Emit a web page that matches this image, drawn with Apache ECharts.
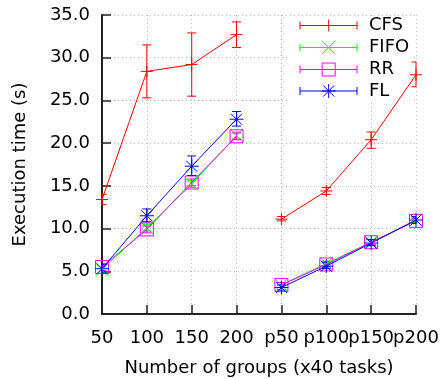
<!DOCTYPE html>
<html><head><meta charset="utf-8">
<script src="https://cdn.jsdelivr.net/npm/echarts@6/dist/echarts.min.js"></script>
<style>html,body{margin:0;padding:0;background:#fff}#c{width:441px;height:379px}</style>
</head><body><div id="c"></div>
<script>
const categories = ['50','100','150','200','p50','p100','p150','p200'];
const yTicks = [0,5,10,15,20,25,30,35];
const names = ['CFS','FIFO','RR','FL'];
const colors = ['#ff0000','#00ff00','#ff00ff','#0000ff'];
const markers = ['plus','cross','square','star'];
const cfs     = [13.4, 28.4, 29.2, 32.7, 11.1, 14.4, 20.4, 28.0];
const cfsLow  = [12.8, 25.3, 25.5, 31.2, 10.9, 14.0, 19.4, 26.6];
const cfsHigh = [14.0, 31.5, 32.9, 34.2, 11.4, 14.8, 21.3, 29.5];
const fifo     = [5.2, 10.1, 15.2, 20.9, 3.4, 5.9, 8.4, 11.0];
const fifoLow  = [4.9, 9.7, 14.8, 20.5, 3.1, 5.6, 8.1, 10.7];
const fifoHigh = [5.5, 10.5, 15.6, 21.3, 3.7, 6.2, 8.7, 11.3];
const rr     = [5.5, 9.9, 15.4, 20.8, 3.4, 5.8, 8.4, 10.9];
const rrLow  = [5.1, 9.5, 15.0, 20.4, 3.1, 5.5, 8.1, 10.6];
const rrHigh = [5.9, 10.3, 15.8, 21.2, 3.7, 6.1, 8.7, 11.2];
const fl     = [5.3, 11.5, 17.3, 22.8, 3.1, 5.6, 8.3, 11.0];
const flLow  = [4.8, 10.8, 16.2, 22.0, 2.8, 5.3, 8.0, 10.6];
const flHigh = [5.8, 12.3, 18.5, 23.7, 3.4, 6.0, 8.7, 11.4];

const vals = [cfs, fifo, rr, fl];
const lows = [cfsLow, fifoLow, rrLow, flLow];
const highs = [cfsHigh, fifoHigh, rrHigh, flHigh];

function L(x1,y1,x2,y2,c){return {type:'line',shape:{x1,y1,x2,y2},style:{stroke:c,lineWidth:1}};}
function marker(kind,cx,cy,c){
  const out=[];
  if(kind==='plus'){const h=6;out.push(L(cx-h,cy,cx+h,cy,c),L(cx,cy-h,cx,cy+h,c));}
  else if(kind==='cross'){const h=6.5;out.push(L(cx-h,cy-h,cx+h,cy+h,c),L(cx-h,cy+h,cx+h,cy-h,c));}
  else if(kind==='square'){const h=6.5;out.push({type:'rect',shape:{x:cx-h,y:cy-h,width:2*h,height:2*h},style:{fill:'none',stroke:c,lineWidth:1}});}
  else {const h=7;const d=5.5;out.push(L(cx-h,cy,cx+h,cy,c),L(cx,cy-h,cx,cy+h,c),L(cx-d,cy-d,cx+d,cy+d,c),L(cx-d,cy+d,cx+d,cy-d,c));}
  return out;
}
function seg(arr,part){return arr.map((v,i)=>((part===0&&i<4)||(part===1&&i>=4))?v:null);}

const series=[];
// legend box (drawn relative to the plot area, below the data)
series.push({type:'custom',name:'legend',z:1,silent:true,animation:false,clip:false,
  data:[[0,0]],encode:{x:0,y:1},
  renderItem:function(params,api){
    const cs=params.coordSys;
    const right=cs.x+cs.width;
    const ch=[{type:'rect',shape:{x:right-128,y:cs.y+2,width:123,height:85},style:{fill:'#fff'}}];
    const rowY=[10.5,32.5,54.5,76];
    names.forEach((n,k)=>{
      const c=colors[k], y=cs.y+rowY[k];
      const x0=right-116, x1=right-59, xm=right-87.3;
      ch.push(L(x0,y,x1,y,c),L(x0,y-4,x0,y+4,c),L(x1,y-4,x1,y+4,c));
      marker(markers[k],xm,y,c).forEach(m=>ch.push(m));
      ch.push({type:'text',style:{text:n,x:right-47,y:y,verticalAlign:'middle',align:'left',
        fontSize:18,fontFamily:'DejaVu Sans',fill:'#000'}});
    });
    return {type:'group',children:ch};
  }});
names.forEach((n,k)=>{
  const c=colors[k];
  [0,1].forEach(p=>series.push({type:'line',name:n,data:seg(vals[k],p),symbol:'none',connectNulls:false,
    lineStyle:{color:c,width:1},itemStyle:{color:c},silent:true,animation:false}));
  series.push({type:'custom',name:n+'err',animation:false,silent:true,clip:false,
    data:vals[k].map((v,i)=>[i,v,lows[k][i],highs[k][i]]),
    encode:{x:0,y:[1,2,3]},
    renderItem:function(params,api){
      const cs=params.coordSys;
      const p=api.coord([api.value(0),api.value(1)]);
      const lo=api.coord([api.value(0),api.value(2)]);
      const hi=api.coord([api.value(0),api.value(3)]);
      const w=4.5;
      const xl=Math.max(cs.x,p[0]-w), xr=Math.min(cs.x+cs.width,p[0]+w);
      const ch=[L(p[0],lo[1],p[0],hi[1],c),L(xl,lo[1],xr,lo[1],c),L(xl,hi[1],xr,hi[1],c)];
      return {type:'group',children:ch.concat(marker(markers[k],p[0],p[1],c))};
    }});
});

const axisColor='#222';
const option={
  animation:false,
  backgroundColor:'#fff',
  textStyle:{fontFamily:'DejaVu Sans'},
  grid:{left:102,right:25,top:15,bottom:65,containLabel:false,outerBoundsMode:'none'},
  xAxis:{type:'category',data:categories,boundaryGap:false,
    name:'Number of groups (x40 tasks)',nameLocation:'middle',nameGap:45,
    nameTextStyle:{fontSize:18,color:'#000',fontFamily:'DejaVu Sans'},
    axisLine:{lineStyle:{color:axisColor,width:2}},
    axisTick:{inside:true,length:9,alignWithLabel:true,lineStyle:{color:axisColor,width:1.5}},
    axisLabel:{interval:0,fontSize:18,color:'#000',margin:15,fontFamily:'DejaVu Sans'},
    splitLine:{show:true,lineStyle:{color:'#bbb',type:[1,3],width:1}}},
  yAxis:{type:'value',min:0,max:35,interval:5,
    name:'Execution time (s)',nameLocation:'middle',nameGap:73,
    nameTextStyle:{fontSize:18,color:'#000',fontFamily:'DejaVu Sans'},
    axisLine:{show:true,lineStyle:{color:axisColor,width:2}},
    axisTick:{show:true,inside:true,length:9,lineStyle:{color:axisColor,width:1.5}},
    axisLabel:{fontSize:18,color:'#000',margin:12,fontFamily:'DejaVu Sans',
      formatter:v=>yTicks.includes(v)?v.toFixed(1):''},
    splitLine:{show:true,lineStyle:{color:'#bbb',type:[1,3],width:1}}},
  series:series
};
const chart=echarts.init(document.getElementById('c'),null,{renderer:'canvas'});
chart.setOption(option);
</script></body></html>
